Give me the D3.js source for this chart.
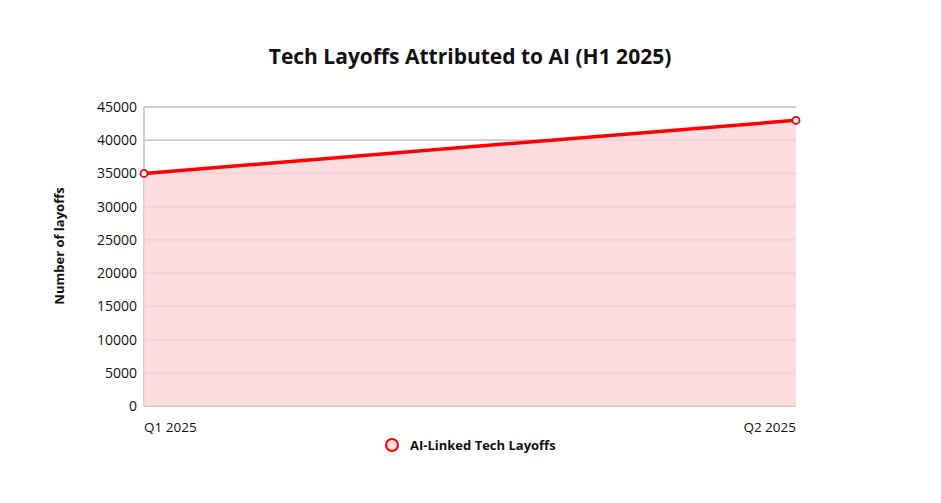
<!DOCTYPE html>
<html>
<head>
<meta charset="utf-8">
<script src="https://cdn.jsdelivr.net/npm/d3@7"></script>
<style>
  body { margin: 0; background: #fff; }
  text { font-family: "Open Sans", "Noto Sans", sans-serif; fill: #111; }
</style>
</head>
<body>
<svg id="chart" width="941" height="503"></svg>
<script>
// data
var categories = ["Q1 2025", "Q2 2025"];
var layoffs = [35000, 43000];
var yTicks = [0, 5000, 10000, 15000, 20000, 25000, 30000, 35000, 40000, 45000];
var seriesName = "AI-Linked Tech Layoffs";

function run() {
  var svg = d3.select("#chart");
  var left = 144, right = 796, top = 107, bottom = 406;

  var x = d3.scalePoint().domain(categories).range([left, right]);
  var y = d3.scaleLinear().domain([0, 45000]).range([bottom, top]);

  // title
  svg.append("text")
    .attr("x", 470).attr("y", 64)
    .attr("text-anchor", "middle")
    .style("font-size", "21px").style("font-weight", "700")
    .text("Tech Layoffs Attributed to AI (H1 2025)");

  // grid lines
  svg.append("g").selectAll("line")
    .data(yTicks)
    .enter().append("line")
    .attr("x1", left).attr("x2", right)
    .attr("y1", function (d) { return y(d); })
    .attr("y2", function (d) { return y(d); })
    .attr("stroke", "#cccccc").attr("stroke-width", 1.8);

  // left axis line
  svg.append("line")
    .attr("x1", left).attr("x2", left)
    .attr("y1", top).attr("y2", bottom)
    .attr("stroke", "#cccccc").attr("stroke-width", 1.8);

  // y tick labels
  var yAxis = d3.axisLeft(y).tickValues(yTicks).tickSize(0).tickPadding(7)
    .tickFormat(d3.format("d"));
  var gy = svg.append("g").attr("transform", "translate(" + left + ",0)").call(yAxis);
  gy.select(".domain").remove();
  gy.selectAll("text")
    .style("font-family", "'Open Sans', sans-serif")
    .style("font-size", "14px").attr("fill", "#222");

  // x tick labels
  svg.append("g").selectAll("text")
    .data(categories)
    .enter().append("text")
    .attr("x", function (d) { return x(d); })
    .attr("y", 432)
    .attr("text-anchor", function (d, i) { return i === 0 ? "start" : "end"; })
    .style("font-size", "13.5px").attr("fill", "#222")
    .text(function (d) { return d; });

  // y axis title
  svg.append("text")
    .attr("transform", "translate(64,246) rotate(-90)")
    .attr("text-anchor", "middle")
    .style("font-size", "13px").style("font-weight", "700")
    .text("Number of layoffs");

  var pts = categories.map(function (c, i) { return { c: c, v: layoffs[i] }; });

  // area
  var area = d3.area()
    .x(function (d) { return x(d.c); })
    .y0(y(0))
    .y1(function (d) { return y(d.v); });
  svg.append("path").datum(pts)
    .attr("d", area)
    .attr("fill", "rgba(252, 212, 214, 0.78)");

  // line
  var line = d3.line()
    .x(function (d) { return x(d.c); })
    .y(function (d) { return y(d.v); });
  svg.append("path").datum(pts)
    .attr("d", line)
    .attr("fill", "none")
    .attr("stroke", "#ff0000").attr("stroke-width", 3.5);

  // points
  svg.append("g").selectAll("circle")
    .data(pts)
    .enter().append("circle")
    .attr("cx", function (d) { return x(d.c); })
    .attr("cy", function (d) { return y(d.v); })
    .attr("r", 3.5)
    .attr("fill", "#fff")
    .attr("stroke", "#ff0000").attr("stroke-width", 1.8);

  // legend
  svg.append("circle")
    .attr("cx", 392).attr("cy", 445).attr("r", 6)
    .attr("fill", "#fcdcdd")
    .attr("stroke", "#ff0000").attr("stroke-width", 2);
  svg.append("text")
    .attr("x", 410).attr("y", 449.5)
    .style("font-size", "13px").style("font-weight", "700")
    .text(seriesName);
}

run();
</script>
</body>
</html>
